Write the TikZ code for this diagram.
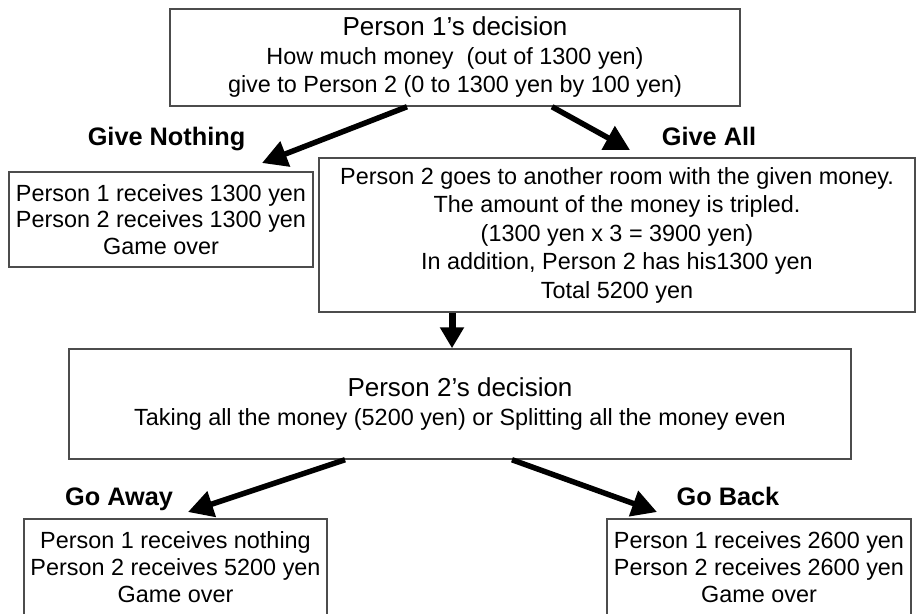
\documentclass[tikz,border=0pt]{standalone}
\usepackage{fontspec}
\setmainfont{Liberation Sans}
\usepackage{tikz}
\usetikzlibrary{calc, arrows.meta}

\begin{document}
\begin{tikzpicture}[x=1pt,y=-1pt,
        decbox/.style={draw=black!70, line width=1.5pt, rectangle, inner sep=0pt, align=center,
                font=\fontsize{23.4}{28.5}\selectfont},
        lbl/.style={font=\fontsize{25.3}{28}\bfseries\selectfont, anchor=base},
        bigarrow/.style={line width=5.5pt, -{Triangle[length=25pt,width=26pt]}}]
        \useasboundingbox (0,0) rectangle (917,613);
        \clip (0,0) rectangle (917,613);
        % Person 1
         \node[decbox, minimum width=570pt, minimum height=97pt] (p1dec) at (455,57.5)
            {{\fontsize{26}{28}\selectfont Person 1’s decision}\\How much money~ (out of 1300 yen)\\give to Person 2 (0 to 1300 yen by 100 yen)};
         \node[decbox, minimum width=304pt, minimum height=95pt, font=\fontsize{23.4}{26.5}\selectfont] (nothing) at (161,219.5)
            {Person 1 receives 1300 yen\\Person 2 receives 1300 yen\\Game over};
         \node[decbox, minimum width=596pt, minimum height=154pt] (giveall) at (617,235)
            {Person 2 goes to another room with the given money.\\The amount of the money is tripled.\\(1300 yen x 3 = 3900 yen)\\In addition, Person 2 has his1300 yen\\Total 5200 yen};
         \node[lbl] (gnlbl) at (166.5,145) {Give Nothing};
         \node[lbl] (galbl) at (709,145) {Give All};
        % Person 2
         \node[decbox, minimum width=782pt, minimum height=110pt] (p2dec) at (460,404)
            {{\fontsize{26}{28}\selectfont Person 2’s decision}\\Taking all the money (5200 yen) or Splitting all the money even};
         \node[decbox, minimum width=303pt, minimum height=97pt, font=\fontsize{23.4}{27}\selectfont] (goaway) at (175.5,567.5)
            {Person 1 receives nothing\\Person 2 receives 5200 yen\\Game over};
         \node[decbox, minimum width=304pt, minimum height=97pt, font=\fontsize{23.4}{27}\selectfont] (goback) at (759,567.5)
            {Person 1 receives 2600 yen\\Person 2 receives 2600 yen\\Game over};
         \node[lbl] (awlbl) at (119,505) {Go Away};
         \node[lbl] (bklbl) at (728,505) {Go Back};
        % arrows
         \coordinate (tipnothing) at (262,163);
         \coordinate (tipall) at (630,150);
         \coordinate (tipaway) at (188,512);
         \coordinate (tipback) at (657,512);
         \draw[bigarrow] ([xshift=-48pt]p1dec.south) -- (tipnothing);
         \draw[bigarrow] ([xshift=97pt]p1dec.south) -- (tipall);
         \draw[line width=7pt, -{Triangle[length=21pt,width=23pt]}] ([xshift=-165pt]giveall.south) -- ([xshift=-8pt]p2dec.north);
         \draw[bigarrow] ([xshift=-115pt]p2dec.south) -- (tipaway);
         \draw[bigarrow] ([xshift=52pt]p2dec.south) -- (tipback);
    \end{tikzpicture}
\end{document}
